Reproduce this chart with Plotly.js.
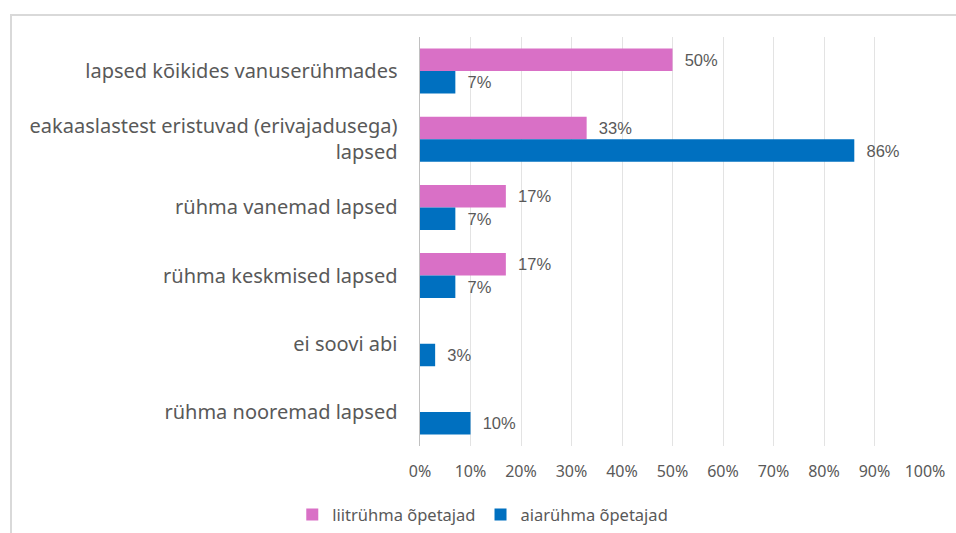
<!DOCTYPE html>
<html>
<head>
<meta charset="utf-8">
<script src="https://cdn.plot.ly/plotly-3.0.1.min.js"></script>
<style>
html,body{margin:0;padding:0;background:#fff;width:956px;height:533px;overflow:hidden;}
#frame{position:absolute;left:10px;top:14px;width:1000px;height:600px;border:2px solid #d9d9d9;box-sizing:border-box;}
#chart{position:absolute;left:0;top:0;width:956px;height:533px;}
</style>
</head>
<body>
<div id="frame"></div>
<div id="chart"></div>
<script>
const categories = [
  "lapsed kõikides vanuserühmades",
  "eakaaslastest eristuvad (erivajadusega)<br>lapsed",
  "rühma vanemad lapsed",
  "rühma keskmised lapsed",
  "ei soovi abi",
  "rühma nooremad lapsed"
];
const seriesNames = ["liitrühma õpetajad", "aiarühma õpetajad"];
const liitryhma = [50, 33, 17, 17, 0, 0];
const aiaryhma = [7, 86, 7, 7, 3, 10];
const xTicks = [0,10,20,30,40,50,60,70,80,90,100];
const xTickLabels = xTicks.map(v => v + "%");

const labelFont = {family: "Liberation Sans, Arial, sans-serif", size: 16.5, color: "#595959"};
function labels(arr){ return arr.map(v => v > 0 ? "  " + v + "%" : ""); }

const traces = [
  {type:"bar", orientation:"h", name:seriesNames[0], y:categories, x:liitryhma,
   marker:{color:"#D970C6"}, text:labels(liitryhma), textposition:"outside",
   textfont:labelFont, cliponaxis:false, hoverinfo:"none"},
  {type:"bar", orientation:"h", name:seriesNames[1], y:categories, x:aiaryhma,
   marker:{color:"#0070C0"}, text:labels(aiaryhma), textposition:"outside",
   textfont:labelFont, cliponaxis:false, hoverinfo:"none"}
];

const layout = {
  width:956, height:533,
  margin:{l:420, r:31, t:37, b:87},
  paper_bgcolor:"rgba(0,0,0,0)", plot_bgcolor:"rgba(0,0,0,0)",
  barmode:"group", bargap:0.34, bargroupgap:0,
  showlegend:true,
  legend:{orientation:"h", xref:"container", yref:"container", x:0.505, xanchor:"center",
          y:0.034, yanchor:"middle", font:{family:"Noto Sans, sans-serif", size:16.5, color:"#595959"},
          itemwidth:30, traceorder:"normal"},
  xaxis:{range:[0,100], tickvals:xTicks, ticktext:xTickLabels, showgrid:true,
         gridcolor:"#e3e3e3", gridwidth:1, zeroline:false, showline:false,
         tickfont:{family:"Noto Sans, sans-serif", size:16, color:"#595959"}, ticks:"", ticklabelstandoff:14, fixedrange:true},
  yaxis:{type:"category", autorange:"reversed", showgrid:false, zeroline:false,
         showline:true, linecolor:"#c0c0c0", linewidth:1.5,
         tickfont:{family:"Noto Sans, sans-serif", size:20, color:"#595959"},
         ticks:"", ticklabelstandoff:17, fixedrange:true}
};

Plotly.newPlot("chart", traces, layout, {staticPlot:true, displayModeBar:false});
</script>
</body>
</html>
